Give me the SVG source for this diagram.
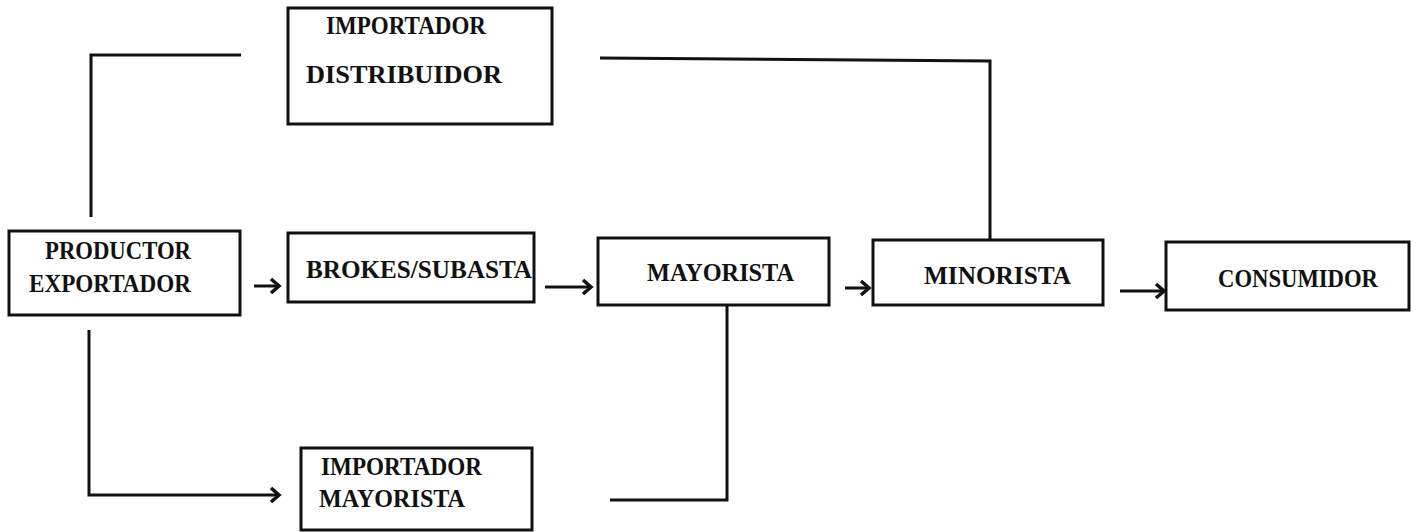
<svg xmlns="http://www.w3.org/2000/svg" width="1417" height="532" viewBox="0 0 1417 532">
<style>
.box{fill:#fff;stroke:#111;stroke-width:3}
.lbl{font-family:"Liberation Serif","DejaVu Serif",serif;font-weight:bold;font-size:26px;fill:#111}
.ln{fill:none;stroke:#111;stroke-width:3;stroke-linejoin:miter}
</style>
<defs>
<marker id="ah" markerUnits="userSpaceOnUse" markerWidth="14" markerHeight="18" refX="10" refY="9" orient="auto">
<path d="M2,2 L10,9 L2,16" fill="none" stroke="#111" stroke-width="3.5"/>
</marker>
</defs>
<rect width="1417" height="532" fill="#fff"/>
<g id="connectors">
<path class="ln" d="M91,217 L91,55 L241,55"/>
<path class="ln" d="M600,58 L990,61 L990,239"/>
<path class="ln" d="M89,330 L89,495 L279,495" marker-end="url(#ah)"/>
<path class="ln" d="M610,500 L727,500 L727,305"/>
<path class="ln" d="M254,286 L279,286" marker-end="url(#ah)"/>
<path class="ln" d="M545,287 L591,287" marker-end="url(#ah)"/>
<path class="ln" d="M845,288 L869,288" marker-end="url(#ah)"/>
<path class="ln" d="M1120,291 L1164,291" marker-end="url(#ah)"/>
</g>
<g id="importador-distribuidor">
<rect class="box" x="288" y="8" width="264" height="116"/>
<text class="lbl" x="326" y="34" textLength="160" lengthAdjust="spacingAndGlyphs">IMPORTADOR</text>
<text class="lbl" x="306" y="83" textLength="196" lengthAdjust="spacingAndGlyphs">DISTRIBUIDOR</text>
</g>
<g id="productor-exportador">
<rect class="box" x="9" y="231" width="231" height="84"/>
<text class="lbl" x="45" y="259" textLength="146" lengthAdjust="spacingAndGlyphs">PRODUCTOR</text>
<text class="lbl" x="29" y="292" textLength="162" lengthAdjust="spacingAndGlyphs">EXPORTADOR</text>
</g>
<g id="brokes-subasta">
<rect class="box" x="288" y="233" width="246" height="69"/>
<text class="lbl" x="306" y="278" textLength="226" lengthAdjust="spacingAndGlyphs">BROKES/SUBASTA</text>
</g>
<g id="mayorista">
<rect class="box" x="598" y="238" width="231" height="67"/>
<text class="lbl" x="647" y="281" textLength="147" lengthAdjust="spacingAndGlyphs">MAYORISTA</text>
</g>
<g id="minorista">
<rect class="box" x="873" y="240" width="230" height="65"/>
<text class="lbl" x="924" y="284" textLength="147" lengthAdjust="spacingAndGlyphs">MINORISTA</text>
</g>
<g id="consumidor">
<rect class="box" x="1166" y="242" width="243" height="68"/>
<text class="lbl" x="1218" y="287" textLength="160" lengthAdjust="spacingAndGlyphs">CONSUMIDOR</text>
</g>
<g id="importador-mayorista">
<rect class="box" x="301" y="448" width="231" height="82"/>
<text class="lbl" x="321" y="475" textLength="161" lengthAdjust="spacingAndGlyphs">IMPORTADOR</text>
<text class="lbl" x="319" y="507" textLength="146" lengthAdjust="spacingAndGlyphs">MAYORISTA</text>
</g>
</svg>
